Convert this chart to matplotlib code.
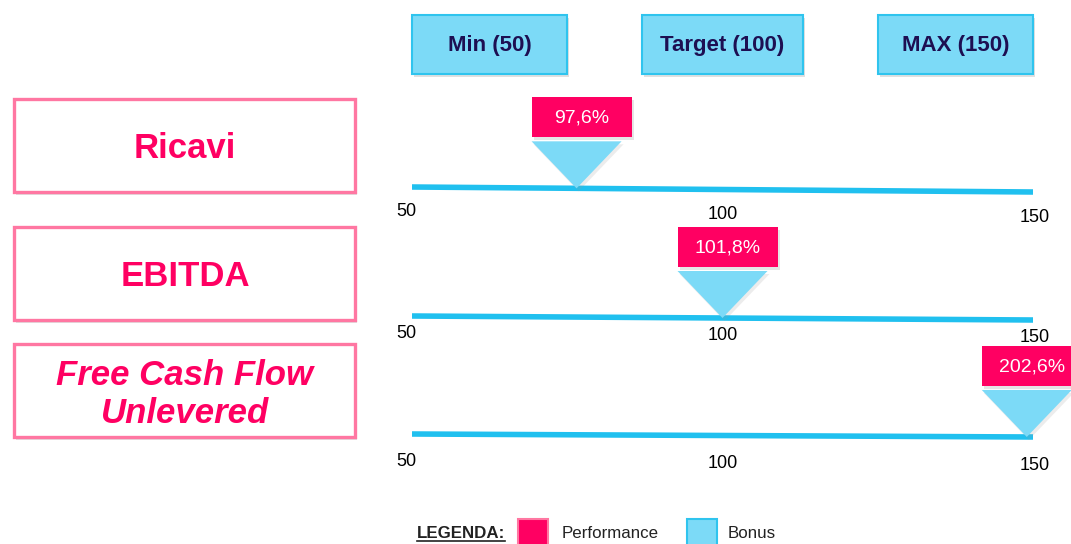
import matplotlib
matplotlib.use("Agg")
import matplotlib.pyplot as plt
from matplotlib.patches import Rectangle, Polygon
from matplotlib import font_manager

# data
metrics = ["Ricavi", "EBITDA", "Free Cash Flow\nUnlevered"]
metric_italic = [False, False, True]
performance = ["97,6%", "101,8%", "202,6%"]
bonus = [76.5, 100.0, 149.0]          # where the bonus marker sits on the 50..150 scale
ticks = [50, 100, 150]
header_labels = ["Min (50)", "Target (100)", "MAX (150)"]
header_spans = [(50, 75), (87, 113), (125, 150)]
legend_items = ["Performance", "Bonus"]

# colours
PINK = "#ff0062"
PINK_EDGE = "#ff77a2"
BLUE_FILL = "#7cdaf7"
BLUE_EDGE = "#2fc4ee"
LINE_BLUE = "#20c0ef"
NAVY = "#1d0f52"
SHADOW = "#9a9a9a"


def has_font(name):
    try:
        font_manager.findfont(font_manager.FontProperties(family=name),
                              fallback_to_default=False)
        return True
    except ValueError:
        return False


SANS = "Liberation Sans" if has_font("Liberation Sans") else "DejaVu Sans"
NARROW = "Liberation Sans Narrow" if has_font("Liberation Sans Narrow") else SANS
LEG_SIZE = 14.5 if NARROW != SANS else 12.2

W, H = 1071, 544
fig = plt.figure(figsize=(W / 100, H / 100), dpi=100)

# background axes in pixel units (left labels, legend)
bg = fig.add_axes([0, 0, 1, 1])
bg.set_xlim(0, W)
bg.set_ylim(H, 0)
bg.axis("off")

# scale axes: x in scale units 50..150, y in pixels
x_left, x_right = 412, 1033
ax = fig.add_axes([x_left / W, 0, (x_right - x_left) / W, 1])
ax.set_xlim(50, 150)
ax.set_ylim(H, 0)
ax.axis("off")
ppu = (x_right - x_left) / 100.0   # pixels per scale unit


def shadow_rect(axis, x, y, w, h, dx, dy, z, alpha=0.3):
    axis.add_patch(Rectangle((x + dx, y + dy), w, h, facecolor=SHADOW,
                             edgecolor="none", alpha=alpha, zorder=z, clip_on=False))


# header boxes
for (a, b), lab in zip(header_spans, header_labels):
    y0, h = 15, 59
    shadow_rect(ax, a, y0, b - a, h, 2 / ppu, 3, 1)
    ax.add_patch(Rectangle((a, y0), b - a, h, facecolor=BLUE_FILL,
                           edgecolor=BLUE_EDGE, lw=1.5, zorder=2, clip_on=False))
    ax.text((a + b) / 2, y0 + h / 2 + 1, lab, ha="center", va="center",
            color=NAVY, fontsize=16, fontweight="bold", family=NARROW, zorder=3)

# left metric boxes
box_tops = [99, 227, 344]
box_h = 93
text_dy = [3, 3, 4]
for top, name, ital, dy in zip(box_tops, metrics, metric_italic, text_dy):
    shadow_rect(bg, 14, top, 341, box_h, 2, 3, 1)
    bg.add_patch(Rectangle((14, top), 341, box_h, facecolor="white",
                           edgecolor=PINK_EDGE, lw=2.4, zorder=2))
    bg.text(185, top + box_h / 2 + dy, name, ha="center", va="center",
            color=PINK, fontsize=25, fontweight="bold",
            fontstyle="italic" if ital else "normal",
            family=SANS, linespacing=1.17, zorder=3)

# scale rows
line_y0 = [187, 316, 434]
line_y1 = [192, 320, 437]
label_dy = [25, 18, 28]


def yline(i, v):
    return line_y0[i] + (line_y1[i] - line_y0[i]) * (v - ticks[0]) / (ticks[-1] - ticks[0])


for i in range(len(metrics)):
    ax.plot([ticks[0], ticks[-1]], [line_y0[i], line_y1[i]], color=LINE_BLUE,
            lw=4, solid_capstyle="butt", zorder=2)
    for t in ticks:
        xt = t + (-6 / ppu if t == ticks[0] else (2 / ppu if t == ticks[-1] else 0))
        ax.text(xt, yline(i, t) + label_dy[i], str(t), ha="center", va="center",
                fontsize=13, family=SANS, color="black", clip_on=False)

    # bonus triangle + performance box
    b = bonus[i]
    ytip = yline(i, b)
    half = 45 / ppu
    tri_top = ytip - 47
    ax.add_patch(Polygon([(b - half + 2 / ppu, tri_top + 3), (b + half + 2 / ppu, tri_top + 3),
                          (b + 2 / ppu, ytip + 3)], closed=True, facecolor=SHADOW,
                         edgecolor="none", alpha=0.18, zorder=3, clip_on=False))
    ax.add_patch(Polygon([(b - half, tri_top), (b + half, tri_top), (b, ytip)],
                         closed=True, facecolor=BLUE_FILL, edgecolor="none",
                         zorder=4, clip_on=False))
    bx0 = b - half
    bw = 100 / ppu
    by0 = tri_top - 4 - 40
    shadow_rect(ax, bx0, by0, bw, 40, 2 / ppu, 3, 4, alpha=0.25)
    ax.add_patch(Rectangle((bx0, by0), bw, 40, facecolor=PINK, edgecolor="none",
                           zorder=5, clip_on=False))
    ax.text(bx0 + bw / 2, by0 + 21, performance[i], ha="center", va="center",
            color="white", fontsize=14, family=SANS, zorder=6, clip_on=False)

# legend
leg = bg.text(417, 533, "LEGENDA:", ha="left", va="center", fontsize=LEG_SIZE,
              fontweight="bold", family=NARROW, color="#222222")
fig.canvas.draw()
bb = leg.get_window_extent().transformed(bg.transData.inverted())
bg.plot([bb.x0, bb.x1], [541, 541], color="#222222", lw=1.2)

sq = [(518, PINK, PINK_EDGE), (687, BLUE_FILL, BLUE_EDGE)]
txt_x = [562, 728]
for (sx, fc, ec), lab, tx in zip(sq, legend_items, txt_x):
    bg.add_patch(Rectangle((sx, 519), 30, 32, facecolor=fc, edgecolor=ec, lw=1.5,
                           zorder=2, clip_on=False))
    bg.text(tx, 533, lab, ha="left", va="center", fontsize=LEG_SIZE, family=NARROW,
            color="#222222")

fig.savefig("out.png", dpi=100, facecolor="white")
